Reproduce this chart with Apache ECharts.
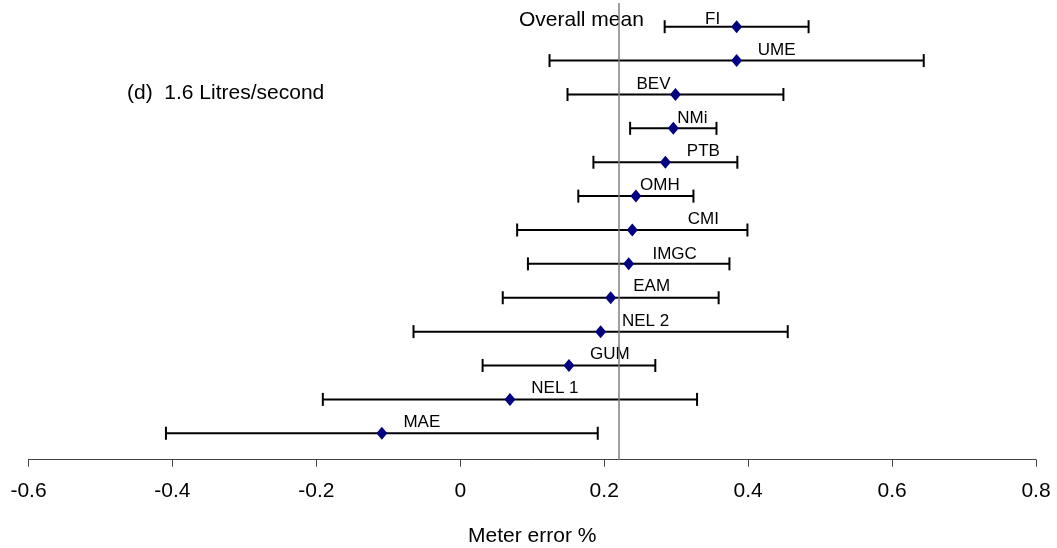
<!DOCTYPE html>
<html>
<head>
<meta charset="utf-8">
<script src="https://cdn.jsdelivr.net/npm/echarts@6/dist/echarts.min.js"></script>
<style>
html,body{margin:0;padding:0;background:#fff;}
#chart{width:1057px;height:548px;}
</style>
</head>
<body>
<div id="chart"></div>
<script>
// Data (top to bottom)
const labs = ['FI','UME','BEV','NMi','PTB','OMH','CMI','IMGC','EAM','NEL 2','GUM','NEL 1','MAE'];
const meanErr = [0.384, 0.384, 0.299, 0.296, 0.285, 0.244, 0.239, 0.234, 0.209, 0.195, 0.151, 0.069, -0.109];
const uncert = [0.10, 0.26, 0.15, 0.06, 0.10, 0.08, 0.16, 0.14, 0.15, 0.26, 0.12, 0.26, 0.30];
const overallMean = 0.222;
const xTicks = [-0.6, -0.4, -0.2, 0, 0.2, 0.4, 0.6, 0.8];

// label placement offsets (style only)
const labelOffsets = [[-24,-7],[40,-10],[-22,-10],[19,-10],[38,-11],[24,-11],[71,-11],[46,-10],[41,-11],[45,-10],[41,-11],[45,-11],[40,-11]];

const FONT = 'Liberation Sans, Arial, sans-serif';
const n = labs.length;
const rowY = labs.map((_, i) => n - i);

const scatterData = labs.map((name, i) => ({
  name: name,
  value: [meanErr[i], rowY[i]],
  label: { offset: labelOffsets[i] }
}));
const barData = labs.map((name, i) => [meanErr[i], uncert[i], rowY[i]]);

const chart = echarts.init(document.getElementById('chart'), null, {renderer: 'canvas'});
chart.setOption({
  animation: false,
  backgroundColor: '#ffffff',
  grid: { left: 28.5, right: 21, top: 3, bottom: 88.3, containLabel: false, outerBoundsMode: 'none' },
  xAxis: {
    type: 'value',
    min: xTicks[0], max: xTicks[xTicks.length - 1], interval: 0.2,
    splitLine: { show: false },
    axisLine: { show: true, onZero: false, lineStyle: { color: '#404040', width: 1 } },
    axisTick: { show: true, length: 7, lineStyle: { color: '#404040', width: 1 } },
    axisLabel: {
      margin: 21, color: '#000', fontFamily: FONT, fontSize: 21,
      formatter: v => { const r = Math.round(v * 10) / 10; return r === 0 ? '0' : String(r); }
    },
    name: 'Meter error %',
    nameLocation: 'middle',
    nameGap: 66,
    nameTextStyle: { color: '#000', fontFamily: FONT, fontSize: 21 }
  },
  yAxis: {
    type: 'value', min: 0.22, max: 13.7, show: false,
    splitLine: { show: false }
  },
  series: [
    {
      type: 'custom',
      data: barData,
      encode: { x: 0, y: 2 },
      z: 2,
      renderItem: function (params, api) {
        const m = api.value(0), u = api.value(1), y = api.value(2);
        const p1 = api.coord([m - u, y]);
        const p2 = api.coord([m + u, y]);
        const h = 6.5;
        const st = { stroke: '#000', lineWidth: 2 };
        return {
          type: 'group',
          children: [
            { type: 'line', shape: { x1: p1[0], y1: p1[1], x2: p2[0], y2: p2[1] }, style: st },
            { type: 'line', shape: { x1: p1[0], y1: p1[1] - h, x2: p1[0], y2: p1[1] + h }, style: st },
            { type: 'line', shape: { x1: p2[0], y1: p2[1] - h, x2: p2[0], y2: p2[1] + h }, style: st }
          ]
        };
      }
    },
    {
      type: 'scatter',
      data: scatterData,
      symbol: 'diamond',
      symbolSize: [11, 13],
      z: 3,
      itemStyle: { color: '#000080', opacity: 1 },
      label: {
        show: true,
        position: 'inside',
        align: 'center',
        verticalAlign: 'middle',
        formatter: p => p.name,
        color: '#000',
        textBorderWidth: 0,
        textBorderColor: 'transparent',
        fontFamily: FONT,
        fontSize: 17
      },
      markLine: {
        silent: true,
        symbol: 'none',
        label: { show: false },
        lineStyle: { color: '#7f7f7f', width: 1.5, type: 'solid', opacity: 1 },
        data: [{ xAxis: overallMean }]
      }
    }
  ],
  graphic: [
    {
      type: 'text', left: 519, top: 9.5,
      style: { text: 'Overall mean', fill: '#000', font: '21px ' + FONT }
    },
    {
      type: 'text', left: 127, top: 83,
      style: { text: '(d)  1.6 Litres/second', fill: '#000', font: '21px ' + FONT }
    }
  ]
});
</script>
</body>
</html>
